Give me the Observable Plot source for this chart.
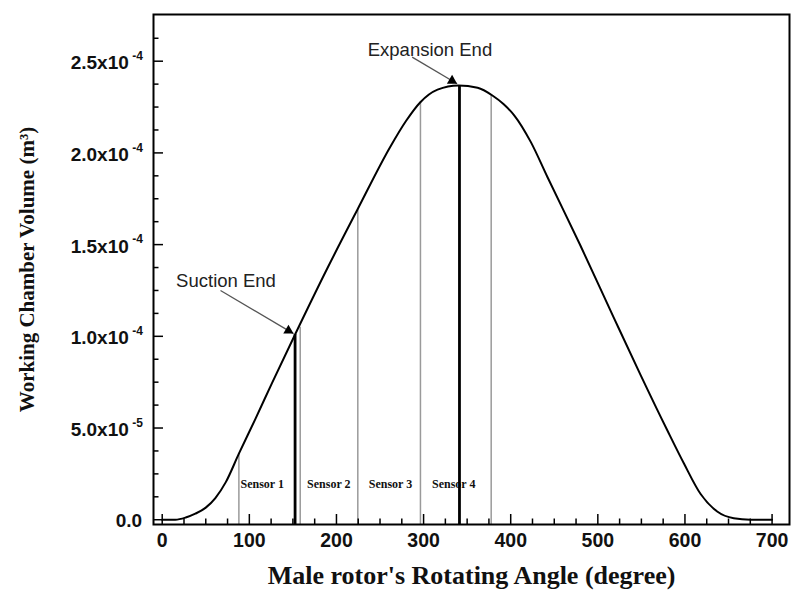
<!DOCTYPE html>
<html><head><meta charset="utf-8">
<script src="https://cdn.jsdelivr.net/npm/d3@7"></script>
<script src="https://cdn.jsdelivr.net/npm/@observablehq/plot@0.6"></script>
<style>html,body{margin:0;padding:0;background:#fff}</style>
</head><body><div id="chart"></div>
<script>
// Curve: working chamber volume vs male rotor angle
const angle  = [0, 15, 27, 38, 50, 61, 73, 88, 107, 126, 151, 190, 224, 262, 280, 296, 316, 340, 362, 379, 392, 404, 423, 442, 480, 518, 549, 580, 599, 618, 637, 656, 675, 700];
const volume = [0, 0, 0.012e-4, 0.033e-4, 0.066e-4, 0.118e-4, 0.205e-4, 0.36e-4, 0.55e-4, 0.745e-4, 0.995e-4, 1.375e-4, 1.69e-4, 2.035e-4, 2.175e-4, 2.275e-4, 2.345e-4, 2.368e-4, 2.355e-4, 2.313e-4, 2.265e-4, 2.205e-4, 2.06e-4, 1.87e-4, 1.495e-4, 1.105e-4, 0.79e-4, 0.485e-4, 0.305e-4, 0.14e-4, 0.045e-4, 0.008e-4, 0, 0];

// Vertical boundary lines
const boundaryAngle = [88, 152.5, 158.4, 224.5, 296.4, 341.2, 377.6];
const boundaryTop   = [0.36e-4, 1.01e-4, 1.05e-4, 1.69e-4, 2.278e-4, 2.368e-4, 2.316e-4];
const boundaryKind  = ["sensor", "end", "sensor", "sensor", "sensor", "end", "sensor"];

// Sensor labels
const sensorLabel = ["Sensor 1", "Sensor 2", "Sensor 3", "Sensor 4"];
const sensorAngle = [114.8, 191.2, 262, 334.6];
const sensorValue = [1.92e-5, 1.92e-5, 1.92e-5, 1.92e-5];

// Annotations
const noteText   = ["Suction End", "Expansion End"];
const noteAngle  = [73.2, 307.3];
const noteValue  = [1.30e-4, 2.562e-4];
const arrowFromX = [66.9, 286.9];
const arrowFromY = [1.25e-4, 2.522e-4];
const arrowToX   = [150.7, 338.5];
const arrowToY   = [1.015e-4, 2.377e-4];

// Axes
const xTicks = [0, 100, 200, 300, 400, 500, 600, 700];
const xMinor = [25, 50, 75, 125, 150, 175, 225, 250, 275, 325, 350, 375, 425, 450, 475, 525, 550, 575, 625, 650, 675];
const yTicks = [0, 5e-5, 1e-4, 1.5e-4, 2e-4, 2.5e-4];
const yTickBase = ["0.0", "5.0x10", "1.0x10", "1.5x10", "2.0x10", "2.5x10"];
const yTickExp  = ["", "-5", "-4", "-4", "-4", "-4"];
const yMinor = [1.25e-5, 2.5e-5, 3.75e-5, 6.25e-5, 7.5e-5, 8.75e-5, 1.125e-4, 1.25e-4, 1.375e-4, 1.625e-4, 1.75e-4, 1.875e-4, 2.125e-4, 2.25e-4, 2.375e-4, 2.625e-4];
const xTitle = "Male rotor's Rotating Angle (degree)";
const yTitle = "Working Chamber Volume (m³)";

const W = 791, H = 599, mL = 153, mR = 2, mT = 14, mB = 75;
const xDomain = [-10, 720];
const yDomain = [-2.6e-6, 2.7546e-4];
const plotW = W - mL - mR, plotH = H - mT - mB;

const curve = angle.map((a, i) => ({a, v: volume[i]}));
const bounds = boundaryAngle.map((a, i) => ({a, top: boundaryTop[i], kind: boundaryKind[i]}));
const sensors = sensorLabel.map((t, i) => ({t, a: sensorAngle[i], v: sensorValue[i]}));
const notes = noteText.map((t, i) => ({t, a: noteAngle[i], v: noteValue[i]}));
const arrows = noteText.map((t, i) => ({x1: arrowFromX[i], y1: arrowFromY[i], x2: arrowToX[i], y2: arrowToY[i]}));

const sx = plotW / (xDomain[1] - xDomain[0]);
const sy = plotH / (yDomain[1] - yDomain[0]);
const headR = 3.8;
const tipDist = 2 * Math.sqrt(headR * headR * Math.PI / (Math.sqrt(3) * 3));
const heads = arrows.map(d => {
  const dxp = (d.x2 - d.x1) * sx, dyp = -(d.y2 - d.y1) * sy;
  const ang = Math.atan2(dyp, dxp);
  return Plot.dot([d], {x: "x2", y: "y2", symbol: "triangle", r: headR, fill: "black", stroke: "none",
    rotate: ang * 180 / Math.PI + 90, dx: -Math.cos(ang) * tipDist, dy: -Math.sin(ang) * tipDist});
});

const sans = "'Liberation Sans', Arial, sans-serif";
const serif = "'Liberation Serif', 'Times New Roman', serif";

const chart = Plot.plot({
  width: W, height: H,
  marginLeft: mL, marginRight: mR, marginTop: mT, marginBottom: mB,
  x: {domain: xDomain, axis: null},
  y: {domain: yDomain, axis: null},
  style: {background: "white", overflow: "visible"},
  marks: [
    Plot.text(sensors, {x: "a", y: "v", text: "t", fontFamily: serif, fontWeight: "bold", fontSize: 12, fill: "#111"}),
    Plot.ruleX(bounds.filter(d => d.kind === "sensor"), {x: "a", y1: yDomain[0], y2: "top", stroke: "#9a9a9a", strokeWidth: 1.5}),
    Plot.ruleX(bounds.filter(d => d.kind === "end"), {x: "a", y1: yDomain[0], y2: "top", stroke: "black", strokeWidth: 2.8}),
    Plot.line(curve, {x: "a", y: "v", curve: "monotone-x", stroke: "black", strokeWidth: 2}),
    Plot.link(arrows, {x1: "x1", y1: "y1", x2: "x2", y2: "y2", stroke: "#555", strokeWidth: 1.3}),
    ...heads,
    Plot.text(notes, {x: "a", y: "v", text: "t", fontFamily: sans, fontSize: 18.5, fill: "#222"}),
    // ticks (inward)
    Plot.ruleX(xTicks, {x: d => d, insetTop: plotH - 10, stroke: "black", strokeWidth: 1.5}),
    Plot.ruleX(xMinor, {x: d => d, insetTop: plotH - 5.5, stroke: "black", strokeWidth: 1.5}),
    Plot.ruleY(yTicks, {y: d => d, insetRight: plotW - 10, stroke: "black", strokeWidth: 1.5}),
    Plot.ruleY(yMinor, {y: d => d, insetRight: plotW - 5.5, stroke: "black", strokeWidth: 1.5}),
    Plot.frame({stroke: "black", strokeWidth: 2}),
    // tick labels
    Plot.text(xTicks, {x: d => d, frameAnchor: "bottom", dy: 22.7, text: d => String(d), fontFamily: sans, fontWeight: "bold", fontSize: 19.5, fill: "#111"}),
    Plot.text(d3.range(yTicks.length), {y: i => yTicks[i], frameAnchor: "left", textAnchor: "end",
      dx: -24.7, dy: 2, text: i => yTickExp[i] ? yTickBase[i] : null, fontFamily: sans, fontWeight: "bold", fontSize: 19, fill: "#111"}),
    Plot.text(d3.range(yTicks.length), {y: i => yTicks[i], frameAnchor: "left", textAnchor: "end",
      dx: -11.3, dy: 1.2, text: i => yTickExp[i] ? null : yTickBase[i], fontFamily: sans, fontWeight: "bold", fontSize: 19, fill: "#111"}),
    Plot.text(d3.range(yTicks.length), {y: i => yTicks[i], frameAnchor: "left", textAnchor: "end",
      dx: -10.5, dy: -5, text: i => yTickExp[i] || null, fontFamily: sans, fontWeight: "bold", fontSize: 12, fill: "#111"}),
    // axis titles
    Plot.text([xTitle], {frameAnchor: "bottom", dy: 59, text: d => d, fontFamily: serif, fontWeight: "bold", fontSize: 26, fill: "#111"}),
    Plot.text([yTitle], {frameAnchor: "left", textAnchor: "middle", dx: -126, text: d => d, rotate: -90, fontFamily: serif, fontWeight: "bold", fontSize: 21, fill: "#111"})
  ]
});
document.getElementById("chart").appendChild(chart);
</script>
</body></html>
